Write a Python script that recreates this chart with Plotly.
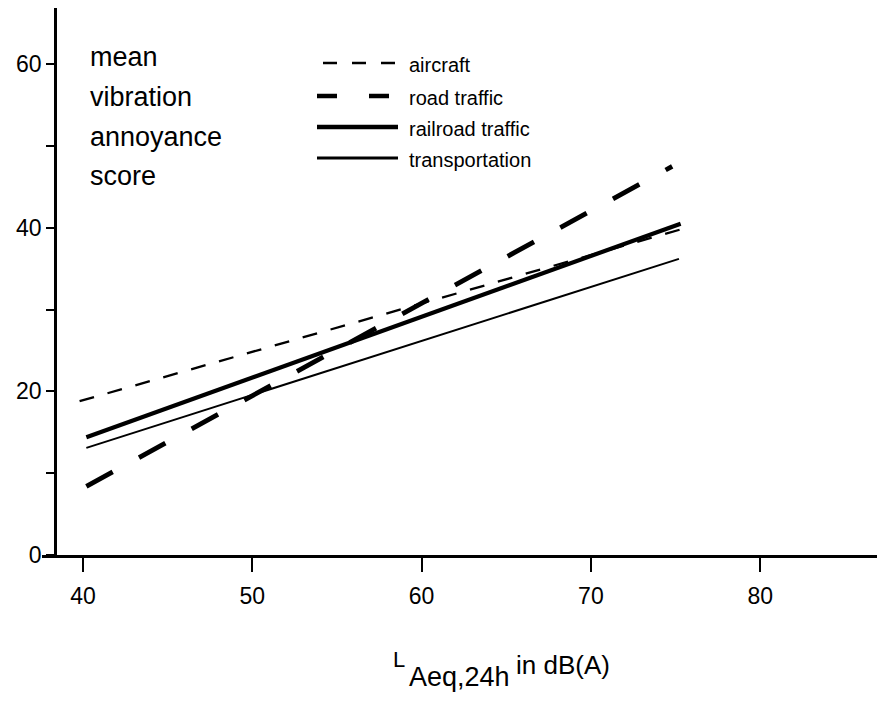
import plotly.graph_objects as go

# ---- data ----
series_names = ["aircraft", "road traffic", "railroad traffic", "transportation"]
aircraft_x = [39.8, 75.3]
aircraft_y = [18.8, 39.8]
road_x = [40.2, 74.8]
road_y = [8.4, 47.5]
rail_x = [40.2, 75.3]
rail_y = [14.4, 40.5]
transport_x = [40.2, 75.2]
transport_y = [13.1, 36.2]

x_ticks = [40, 50, 60, 70, 80]
y_ticks = [0, 20, 40, 60]
y_title_lines = ["mean", "vibration", "annoyance", "score"]

# ---- layout geometry (page body has an 8px margin) ----
OFF = 8
W, H = 885 - OFF, 704 - OFF
L, R, T, B = 42 - OFF, 0, 8 - OFF, 149
PW, PH = W - L - R, H - T - B
FONT = "Liberation Sans, Arial, Helvetica, sans-serif"


def px(xp):
    """reference-screenshot x pixel -> paper fraction"""
    return (xp - OFF - L) / PW


def py(yp):
    """reference-screenshot y pixel -> paper fraction"""
    return (T + PH - (yp - OFF)) / PH


styles = {
    "aircraft": dict(width=2.3, dash="15px,14px"),
    "road traffic": dict(width=4.8, dash="30px,30px"),
    "railroad traffic": dict(width=4.2, dash="solid"),
    "transportation": dict(width=2.0, dash="solid"),
}
data = {
    "aircraft": (aircraft_x, aircraft_y),
    "road traffic": (road_x, road_y),
    "railroad traffic": (rail_x, rail_y),
    "transportation": (transport_x, transport_y),
}

fig = go.Figure()
for name in series_names:
    xs, ys = data[name]
    fig.add_trace(go.Scatter(
        x=xs, y=ys, mode="lines", name=name, showlegend=False,
        line=dict(color="black", **styles[name]),
    ))

fig.update_layout(
    width=W, height=H,
    margin=dict(l=L, r=R, t=T, b=B, autoexpand=False),
    paper_bgcolor="white", plot_bgcolor="white",
    font=dict(family=FONT, color="black"),
    showlegend=False,
    xaxis=dict(
        range=[37.58, 87.37], showgrid=False, zeroline=False,
        showline=True, linecolor="black", linewidth=2.5,
        ticks="outside", ticklen=14, tickwidth=2, tickcolor="black",
        tickvals=x_ticks, ticktext=[str(v) for v in x_ticks],
        tickfont=dict(size=23, family=FONT), ticklabelstandoff=5,
    ),
    yaxis=dict(
        range=[0, 66.87], showgrid=False, zeroline=False,
        anchor="free", position=px(55),
        showline=True, linecolor="black", linewidth=2.5,
        ticks="outside", ticklen=8, tickwidth=2, tickcolor="black",
        tickvals=y_ticks, ticktext=[str(v) for v in y_ticks],
        tickfont=dict(size=23, family=FONT),
        minor=dict(ticks="outside", ticklen=8, tickwidth=2,
                   tickcolor="black", dtick=10, showgrid=False),
    ),
)

# y title block
title_centers = [57, 97, 137, 176]
for txt, yc in zip(y_title_lines, title_centers):
    fig.add_annotation(text=txt, xref="paper", yref="paper",
                       x=px(88), y=py(yc), xanchor="left", yanchor="middle",
                       showarrow=False, font=dict(size=27, family=FONT))

# legend (drawn manually)
legend_rows = [63, 96, 127, 158]
legend_text_y = [65, 98, 129, 160]
legend_line_w = {"aircraft": 2.3, "road traffic": 4.5,
                 "railroad traffic": 4.5, "transportation": 3.2}
legend_dash = {"aircraft": "14px,15px", "road traffic": "20px,32px",
               "railroad traffic": "solid", "transportation": "solid"}
for name, yl, yt in zip(series_names, legend_rows, legend_text_y):
    x0 = 323 if name == "aircraft" else 317
    fig.add_shape(type="line", xref="paper", yref="paper",
                  x0=px(x0), x1=px(398), y0=py(yl), y1=py(yl),
                  line=dict(color="black", width=legend_line_w[name],
                            dash=legend_dash[name]))
    fig.add_annotation(text=name, xref="paper", yref="paper",
                       x=px(407), y=py(yt), xanchor="left", yanchor="middle",
                       showarrow=False, font=dict(size=20, family=FONT))

# x axis title: L_{Aeq,24h} in dB(A)
fig.add_annotation(text="L", xref="paper", yref="paper",
                   x=px(391), y=py(659), xanchor="left", yanchor="middle",
                   showarrow=False, font=dict(size=22, family=FONT))
fig.add_annotation(text="Aeq,24h", xref="paper", yref="paper",
                   x=px(407), y=py(677), xanchor="left", yanchor="middle",
                   showarrow=False, font=dict(size=27, family=FONT))
fig.add_annotation(text="in dB(A)", xref="paper", yref="paper",
                   x=px(514), y=py(665), xanchor="left", yanchor="middle",
                   showarrow=False, font=dict(size=26, family=FONT))

fig.write_html("out.html")
